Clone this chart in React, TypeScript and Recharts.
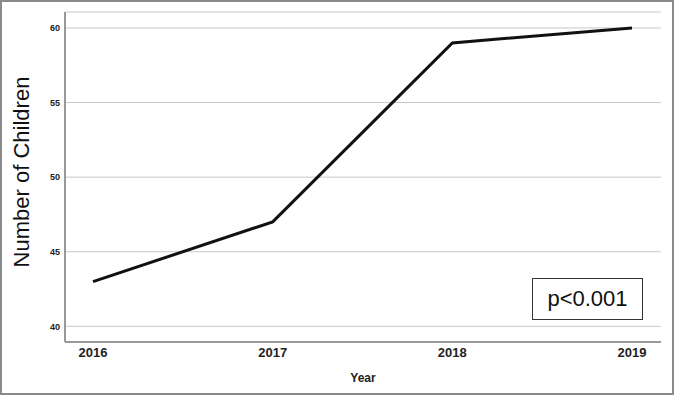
import { LineChart, Line, XAxis, YAxis, CartesianGrid } from 'recharts';

const years = [2016, 2017, 2018, 2019];
const children = [43, 47, 59, 60];
const yTicks = [40, 45, 50, 55, 60];
const pText = 'p<0.001';

const data = years.map((year, i) => ({ year, children: children[i] }));

const FONT = '"Liberation Sans", Arial, sans-serif';

export default function App() {
  return (
    <div style={{ position: 'relative', width: 674, height: 395, fontFamily: FONT }}>
      <style>{'body{margin:0}'}</style>
      <LineChart width={674} height={395} data={data} margin={{ top: 12, right: 13, bottom: 23, left: 0 }}>
        <CartesianGrid vertical={false} stroke="#c8c8c8" strokeWidth={1} />
        <XAxis
          dataKey="year"
          type="number"
          domain={[2016, 2019]}
          ticks={years}
          height={30}
          padding={{ left: 28, right: 29 }}
          axisLine={{ stroke: '#999', strokeWidth: 2 }}
          tickLine={false}
          tickSize={0}
          tickMargin={6}
          tick={{ fill: '#222', fontSize: 13, fontWeight: 'bold', fontFamily: FONT }}
          label={({ viewBox }: any) => (
            <text
              x={viewBox.x + viewBox.width / 2}
              y={382}
              textAnchor="middle"
              fontSize={12}
              fontWeight="bold"
              fill="#222"
              fontFamily={FONT}
            >
              Year
            </text>
          )}
        />
        <YAxis
          domain={[38.95, 61.07]}
          ticks={yTicks}
          width={65}
          allowDataOverflow
          axisLine={{ stroke: '#999', strokeWidth: 2 }}
          tickLine={false}
          tickSize={0}
          tickMargin={5}
          tick={{ fill: '#222', fontSize: 9, fontWeight: 'bold', fontFamily: FONT }}
          label={({ viewBox }: any) => (
            <text
              x={0}
              y={0}
              transform={`translate(29, ${viewBox.y + viewBox.height / 2 - 5}) rotate(-90)`}
              textAnchor="middle"
              fontSize={22}
              fill="#111"
              fontFamily={FONT}
            >
              Number of Children
            </text>
          )}
        />
        <Line
          type="linear"
          dataKey="children"
          stroke="#111"
          strokeWidth={3}
          dot={false}
          activeDot={false}
          isAnimationActive={false}
        />
      </LineChart>
      <div
        style={{
          position: 'absolute',
          left: 532,
          top: 278,
          width: 111,
          height: 42,
          boxSizing: 'border-box',
          border: '1.5px solid #333',
          background: '#fff',
          display: 'flex',
          alignItems: 'center',
          justifyContent: 'center',
          fontSize: 22,
          color: '#111',
        }}
      >
        {pText}
      </div>
      <div
        style={{
          position: 'absolute',
          inset: 0,
          border: '2px solid #8a8a8a',
          pointerEvents: 'none',
        }}
      />
    </div>
  );
}
